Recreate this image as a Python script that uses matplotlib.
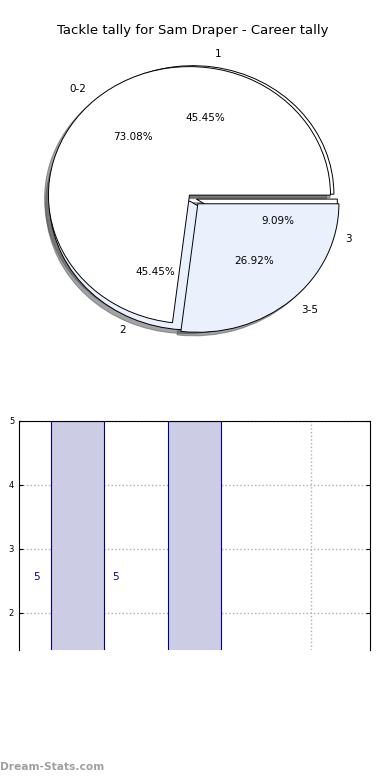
import matplotlib
matplotlib.use('Agg')
import matplotlib.pyplot as plt

# pie data: two overlaid tallies
labels_a = ['0-2', '3-5']
values_a = [19, 7]
labels_b = ['1', '2', '3']
values_b = [5, 5, 1]

# bar data
bar_x = [0, 1, 2]
bar_h = [5, 5, 0]
bar_txt = ['5', '5']
txt_x = [-0.35, 0.325]
txt_y = [2.56, 2.56]

colores = ['white', '#eaf0fc']
borde = {'edgecolor': 'black', 'linewidth': 0.7}

fig = plt.figure(figsize=(3.9, 7.8), dpi=100)

ax = fig.add_axes([0.041, 0.5402, 0.904, 0.4119])
ax.pie(values_b, labels=labels_b, autopct='%1.2f%%', colors=['white', '#eaf0fc', 'white'],
       explode=(0.03, 0.03, 0.03), shadow=True, startangle=0, wedgeprops=borde,
       textprops={'fontsize': 7.5})
ax.pie(values_a, labels=labels_a, autopct='%1.2f%%', colors=colores,
       explode=(0.03, 0.06), shadow=True, startangle=0, wedgeprops=borde,
       textprops={'fontsize': 7.5})
ax.set_aspect('auto')
ax.set_xlim(-1.25, 1.25)
ax.set_ylim(-1.25, 1.25)
ax.set_title('Tackle tally for Sam Draper - Career tally', fontsize=9.5, pad=1)

# barras
ax2 = fig.add_axes([0.0487, 0.1667, 0.9, 0.2936])
ax2.bar(bar_x, bar_h, width=0.45, color='#ccccE5', edgecolor='darkblue', linewidth=0.8)
for i in range(len(bar_txt)):
    ax2.text(txt_x[i], txt_y[i], bar_txt[i], color='darkblue', fontsize=7.5,
             ha='center', va='center')
ax2.set_xlim(-0.5, 2.5)
ax2.set_ylim(1.42, 5)
ax2.set_xticks(bar_x)
ax2.set_xticklabels([])
ax2.set_yticks([2, 3, 4, 5])
ax2.tick_params(axis='y', direction='in', labelsize=6, right=True, length=3)
ax2.tick_params(axis='x', direction='in', length=0)
ax2.grid(True, linestyle=':', color='#b0b0b0', linewidth=1)
ax2.set_axisbelow(True)
ax2.spines['bottom'].set_visible(False)
ax2.set_ylabel('Stat intervals', fontsize=8)
ax2.yaxis.set_label_coords(-0.045, 0.30)

fig.text(0.0, 0.013, 'Dream-Stats.com', color='#a0a0a0', fontsize=7.7, fontweight='bold')

plt.savefig('out.png', dpi=100)
